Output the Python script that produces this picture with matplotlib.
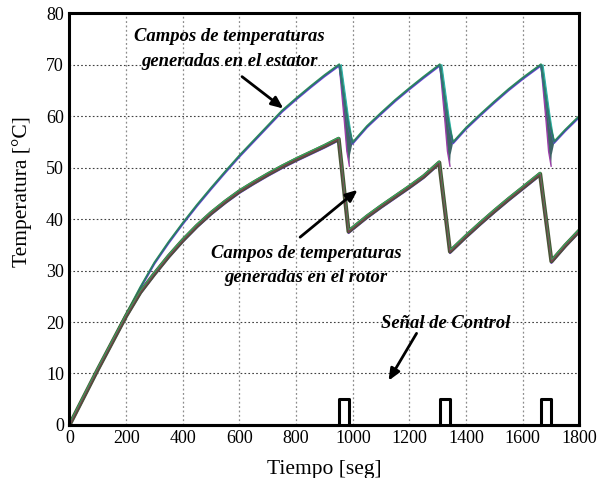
import matplotlib
matplotlib.use('Agg')
import matplotlib.pyplot as plt
from matplotlib.transforms import offset_copy

# temperature fields (mean path) read in seconds / degC
stator_t = [0, 50, 100, 150, 200, 250, 300, 350, 400, 450, 500, 550, 600, 650, 700,
            750, 800, 850, 900, 952, 970, 985, 999, 1050, 1100, 1150, 1200, 1250, 1307,
            1325, 1340, 1354, 1400, 1450, 1500, 1550, 1600, 1664, 1682, 1697, 1711,
            1750, 1800]
stator_v = [0, 5.4, 10.8, 16.1, 21.5, 26.7, 31.5, 35.5, 39.2, 42.7, 46.0, 49.2, 52.3,
            55.2, 58.1, 61.0, 63.4, 65.7, 67.9, 70.0, 63.0, 58.0, 54.8, 58.0, 60.6,
            63.1, 65.4, 67.6, 70.0, 63.0, 58.0, 54.9, 57.7, 60.3, 62.8, 65.2, 67.4,
            70.0, 63.0, 58.0, 55.0, 57.3, 60.0]

rotor_t = [0, 50, 100, 150, 200, 250, 300, 350, 400, 450, 500, 550, 600, 650, 700,
           750, 800, 850, 900, 950, 985, 1050, 1100, 1150, 1200, 1250, 1305, 1343,
           1400, 1450, 1500, 1550, 1600, 1661, 1701, 1750, 1800]
rotor_v = [0, 5.4, 10.8, 16.0, 21.2, 25.8, 29.4, 32.8, 35.9, 38.7, 41.2, 43.4, 45.4,
           47.1, 48.7, 50.2, 51.6, 52.9, 54.2, 55.6, 37.6, 40.5, 42.5, 44.4, 46.3,
           48.3, 51.0, 33.7, 36.7, 39.2, 41.6, 43.9, 46.1, 48.8, 31.8, 34.9, 37.8]

# spread of the stator trajectories right after each drop
stator_peaks = [952, 1307, 1664]
fan_dt = [0, 7, 32, 47, 38, 36, 27, 18]
fan_v = [70.0, 70.0, 60.0, 54.8, 52.5, 50.3, 53.2, 59.1]

# control signal
pulse_on = [953, 1307, 1663]
pulse_off = [988, 1343, 1699]
pulse_level = 5
t_end = 1800

plt.rcParams['font.family'] = ['Liberation Serif', 'DejaVu Serif']

fig = plt.figure(figsize=(6, 4.78), dpi=100)
ax = fig.add_axes([0.1158, 0.111, 0.85, 0.861])

# control signal as a step line
sig_t, sig_v = [0], [0]
for a, b in zip(pulse_on, pulse_off):
    sig_t += [a, a, b, b]
    sig_v += [0, pulse_level, pulse_level, 0]
sig_t.append(t_end)
sig_v.append(0)
ax.plot(sig_t, sig_v, color='black', lw=2.2, zorder=4, clip_on=False)

def shifted(dy):
    return offset_copy(ax.transData, fig=fig, x=0, y=dy, units='dots')

# stator drop fans
for tp in stator_peaks:
    ft = [tp + d for d in fan_dt]
    ax.fill(ft, fan_v, color='#3e6466', lw=0, zorder=3)
    ax.plot(ft[-3:] + ft[:1], fan_v[-3:] + fan_v[:1], color='#9b3fa8', lw=1.0, zorder=3)
    ax.plot(ft[1:4], fan_v[1:4], color='#2bb3a8', lw=0.9, zorder=3)

# stator band
ax.plot(stator_t, stator_v, color='#6a3dd8', lw=1.3, transform=shifted(-0.9), zorder=3)
ax.plot(stator_t, stator_v, color='#2f9a55', lw=1.3, transform=shifted(0.6), zorder=3)
ax.plot(stator_t, stator_v, color='#2d7272', lw=1.0, zorder=3)

# rotor band
ax.plot(rotor_t, rotor_v, color='#7a2ff0', lw=1.4, transform=shifted(-1.6), zorder=3)
ax.plot(rotor_t, rotor_v, color='#4a5436', lw=3.0, zorder=3)
ax.plot(rotor_t, rotor_v, color='#3aa05a', lw=1.0, transform=shifted(1.5), zorder=3)
ax.plot(rotor_t, rotor_v, color='#8a3a5a', lw=0.6, transform=shifted(-0.3), zorder=3)

ax.set_xlim(0, 1800)
ax.set_ylim(0, 80)
ax.set_xticks(range(0, 1801, 200))
ax.set_yticks(range(0, 81, 10))
ax.tick_params(length=0, labelsize=13, pad=4)
ax.xaxis.grid(True, ls=(0, (1.5, 2)), color='#8c8c8c', lw=0.9)
ax.yaxis.grid(True, ls=(0, (1.5, 2)), color='#404040', lw=0.8)
ax.set_axisbelow(True)
for s in ax.spines.values():
    s.set_linewidth(2.2)
    s.set_zorder(5)

ax.set_xlabel('Tiempo [seg]', fontsize=15.5, labelpad=9)
ax.set_ylabel('Temperatura [°C]', fontsize=15.5)
ax.yaxis.set_label_coords(-0.073, 0.566)

note = dict(fontsize=13.4, fontweight='bold', fontstyle='italic', ha='center', va='center')
ax.text(564, 75.5, 'Campos de temperaturas', **note)
ax.text(564, 70.6, 'generadas en el estator', **note)
ax.text(835, 33.4, 'Campos de temperaturas', **note)
ax.text(835, 28.6, 'generadas en el rotor', **note)
ax.text(1329, 19.8, 'Señal de Control', **note)

arrow = dict(arrowstyle='-|>,head_length=0.7,head_width=0.3', lw=2, color='black',
             shrinkA=0, shrinkB=0)
ax.annotate('', xy=(755, 61.5), xytext=(609, 67.7), arrowprops=arrow)
ax.annotate('', xy=(1017, 45.7), xytext=(814, 36.5), arrowprops=arrow)
ax.annotate('', xy=(1126, 8.6), xytext=(1225, 17.8), arrowprops=arrow)

fig.savefig('out.png', dpi=100)
